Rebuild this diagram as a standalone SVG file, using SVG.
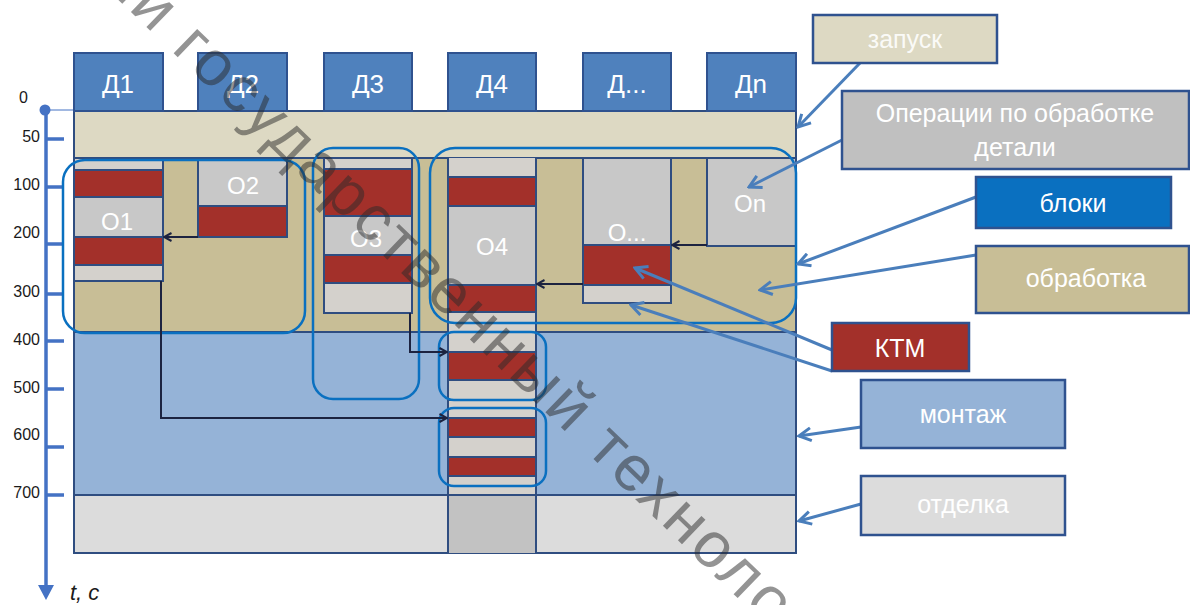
<svg xmlns="http://www.w3.org/2000/svg" width="1190" height="605" viewBox="0 0 1190 605">
<defs>
<style>
.d{fill:#4f81bd;stroke:#2f528f;stroke-width:2}
.dt{font-family:"Liberation Sans",Arial,sans-serif;font-size:26px;fill:#fff;text-anchor:middle}
.ln{stroke:#2f4d80;stroke-width:2;fill:none}
.g{fill:#c8c8c8}
.gl{fill:#d4d1cc}
.r{fill:#a3302a}
.ot{font-family:"Liberation Sans",Arial,sans-serif;font-size:24px;fill:#fff;text-anchor:middle}
.blk{fill:none;stroke:#0a70c0;stroke-width:2.5}
.lg{stroke:#2f528f;stroke-width:2.5}
.lt{font-family:"Liberation Sans",Arial,sans-serif;font-size:25px;fill:#fff;text-anchor:middle}
.ax{font-family:"Liberation Sans",Arial,sans-serif;font-size:16px;fill:#1a1a1a;text-anchor:end}
.tk{stroke:#4472c4;stroke-width:3.5}
.bc{stroke:#4a7ebb;stroke-width:3;fill:none;marker-end:url(#ba)}
.kc{stroke:#1c2340;stroke-width:2;fill:none;marker-end:url(#ka)}
</style>
<marker id="ba" viewBox="0 0 16 16" refX="14" refY="8" markerWidth="16" markerHeight="16" markerUnits="userSpaceOnUse" orient="auto"><path d="M2,1.5 L14,8 L2,14.5" fill="none" stroke="#4a7ebb" stroke-width="3"/></marker>
<marker id="ka" viewBox="0 0 10 10" refX="9" refY="5" markerWidth="10" markerHeight="10" markerUnits="userSpaceOnUse" orient="auto"><path d="M1.5,1 L9,5 L1.5,9" fill="none" stroke="#1c2340" stroke-width="2"/></marker>
</defs>

<g id="axis">
<line x1="46" y1="110" x2="74" y2="110" stroke="#4472c4" stroke-width="1"/>
<line x1="46" y1="110" x2="46" y2="588" stroke="#4472c4" stroke-width="3.5"/>
<path d="M38,585 L46,600 L54,585 Z" fill="#4472c4"/>
<circle cx="45" cy="110" r="5.5" fill="#4472c4"/>
<path class="tk" d="M46,139H64M46,187H64M46,244H64M46,294H64M46,341H64M46,389H64M46,447H64M46,495H64"/>
<text class="ax" x="28" y="103">0</text>
<text class="ax" x="40" y="142">50</text>
<text class="ax" x="40" y="190">100</text>
<text class="ax" x="40" y="238">200</text>
<text class="ax" x="40" y="297">300</text>
<text class="ax" x="40" y="345">400</text>
<text class="ax" x="40" y="393">500</text>
<text class="ax" x="40" y="440">600</text>
<text class="ax" x="40" y="498">700</text>
<text x="70" y="600" font-family="Liberation Sans, Arial, sans-serif" font-size="22" font-style="italic" fill="#1a1a1a">t, c</text>
</g>

<g id="stages">
<rect x="74" y="111" width="722" height="47" fill="#ddd9c3"/>
<rect x="74" y="158" width="722" height="174" fill="#c8be96"/>
<rect x="74" y="332" width="722" height="163" fill="#95b3d7"/>
<rect x="74" y="495" width="722" height="58" fill="#dcdcdc"/>
<path class="ln" d="M74,158H796M74,332H796M74,495H796"/>
<rect class="ln" x="74" y="111" width="722" height="442" stroke-width="2.5"/>
</g>

<g id="details">
<rect class="d" x="74" y="53" width="89" height="58"/><text class="dt" x="118" y="93">Д1</text>
<rect class="d" x="198" y="53" width="89" height="58"/><text class="dt" x="243" y="93">Д2</text>
<rect class="d" x="324" y="53" width="88" height="58"/><text class="dt" x="368" y="93">Д3</text>
<rect class="d" x="448" y="53" width="88" height="58"/><text class="dt" x="492" y="93">Д4</text>
<rect class="d" x="583" y="53" width="88" height="58"/><text class="dt" x="627" y="93">Д...</text>
<rect class="d" x="707" y="53" width="89" height="58"/><text class="dt" x="751" y="93">Дn</text>
</g>

<g id="op1">
<rect class="gl" x="74" y="158" width="89" height="12"/>
<rect class="r" x="74" y="170" width="89" height="27"/>
<rect class="g" x="74" y="197" width="89" height="40"/>
<rect class="r" x="74" y="237" width="89" height="28"/>
<rect class="gl" x="74" y="265" width="89" height="16"/>
<path class="ln" d="M74,170H163M74,197H163M74,237H163M74,265H163"/>
<rect class="ln" x="74" y="158" width="89" height="123"/>
<text class="ot" x="117" y="230">О1</text>
</g>

<g id="op2">
<rect class="g" x="198" y="158" width="89" height="48"/>
<rect class="r" x="198" y="206" width="89" height="31"/>
<path class="ln" d="M198,206H287"/>
<rect class="ln" x="198" y="158" width="89" height="79"/>
<text class="ot" x="243" y="194">О2</text>
</g>

<g id="op3">
<rect class="gl" x="324" y="158" width="88" height="11"/>
<rect class="r" x="324" y="169" width="88" height="47"/>
<rect class="g" x="324" y="216" width="88" height="39"/>
<rect class="r" x="324" y="255" width="88" height="28"/>
<rect class="gl" x="324" y="283" width="88" height="30"/>
<path class="ln" d="M324,169H412M324,216H412M324,255H412M324,283H412"/>
<rect class="ln" x="324" y="158" width="88" height="155"/>
<text class="ot" x="366" y="247">О3</text>
</g>

<g id="op4">
<rect class="gl" x="448" y="158" width="88" height="19"/>
<rect class="r" x="448" y="177" width="88" height="29"/>
<rect class="g" x="448" y="206" width="88" height="79"/>
<rect class="r" x="448" y="285" width="88" height="27"/>
<rect class="gl" x="448" y="312" width="88" height="40"/>
<rect class="r" x="448" y="352" width="88" height="28"/>
<rect class="gl" x="448" y="380" width="88" height="38"/>
<rect class="r" x="448" y="418" width="88" height="19"/>
<rect class="gl" x="448" y="437" width="88" height="20"/>
<rect class="r" x="448" y="457" width="88" height="19"/>
<rect class="gl" x="448" y="476" width="88" height="19"/>
<rect x="448" y="495" width="88" height="58" fill="#c2c2c2"/>
<path class="ln" d="M448,177H536M448,206H536M448,285H536M448,312H536M448,352H536M448,380H536M448,400H536M448,418H536M448,437H536M448,457H536M448,476H536M448,495H536"/>
<path class="ln" d="M448,158V553M536,158V553"/>
<text class="ot" x="492" y="255">О4</text>
</g>

<g id="op5">
<rect class="g" x="583" y="158" width="88" height="87"/>
<rect class="r" x="583" y="245" width="88" height="40"/>
<rect class="gl" x="583" y="285" width="88" height="18"/>
<path class="ln" d="M583,245H671M583,285H671"/>
<rect class="ln" x="583" y="158" width="88" height="145"/>
<text class="ot" x="627" y="241">О...</text>
</g>

<g id="opn">
<rect class="g" x="707" y="158" width="89" height="88"/>
<rect class="ln" x="707" y="158" width="89" height="88"/>
<text class="ot" x="750" y="212">Оn</text>
</g>

<g id="blocks">
<rect class="blk" x="63" y="160" width="242" height="173" rx="22"/>
<rect class="blk" x="313" y="148" width="106" height="251" rx="20"/>
<rect class="blk" x="430" y="148" width="366" height="175" rx="25"/>
<rect class="blk" x="439" y="332" width="107" height="68" rx="15"/>
<rect class="blk" x="439" y="408" width="107" height="78" rx="15"/>
</g>

<g id="connectors">
<path class="kc" d="M198,237H164"/>
<path class="kc" d="M161,281V418H447"/>
<path class="kc" d="M410,313V352H447"/>
<path class="kc" d="M583,284H537"/>
<path class="kc" d="M707,245H672"/>
<path class="bc" d="M860,63L798,127"/>
<path class="bc" d="M842,140L749,187"/>
<path class="bc" d="M976,197L798,264"/>
<path class="bc" d="M976,255L760,290"/>
<path class="bc" d="M832,350L635,268"/>
<path class="bc" d="M832,371L631,305"/>
<path class="bc" d="M861,427L799,436"/>
<path class="bc" d="M861,504L799,521"/>
</g>

<g id="legend-start"><rect class="lg" x="813" y="15" width="184" height="48" fill="#ddd9c3"/><text class="lt" x="905" y="48" fill-opacity="0.9">запуск</text></g>
<g id="legend-ops"><rect class="lg" x="842" y="91" width="347" height="78" fill="#c0c0c0"/><text class="lt" x="1015" y="122">Операции по обработке</text><text class="lt" x="1015" y="156">детали</text></g>
<g id="legend-blocks"><rect class="lg" x="976" y="177" width="195" height="51" fill="#0a70c0"/><text class="lt" x="1073" y="212">блоки</text></g>
<g id="legend-proc"><rect class="lg" x="976" y="246" width="213" height="67" fill="#c8be96"/><text class="lt" x="1086" y="287">обработка</text></g>
<g id="legend-ktm"><rect class="lg" x="832" y="323" width="137" height="48" fill="#a3302a"/><text class="lt" x="900" y="357">КТМ</text></g>
<g id="legend-mont"><rect class="lg" x="861" y="380" width="204" height="68" fill="#95b3d7"/><text class="lt" x="963" y="423">монтаж</text></g>
<g id="legend-fin"><rect class="lg" x="861" y="476" width="204" height="59" fill="#dcdcdc"/><text class="lt" x="963" y="513">отделка</text></g>

<g id="watermark">
<text transform="translate(166,46) rotate(44)" x="-92" y="0" font-family="Liberation Sans, Arial, sans-serif" font-size="64" letter-spacing="3" fill="#2a2a2a" fill-opacity="0.5">ий государственный техноло</text>
</g>
</svg>
